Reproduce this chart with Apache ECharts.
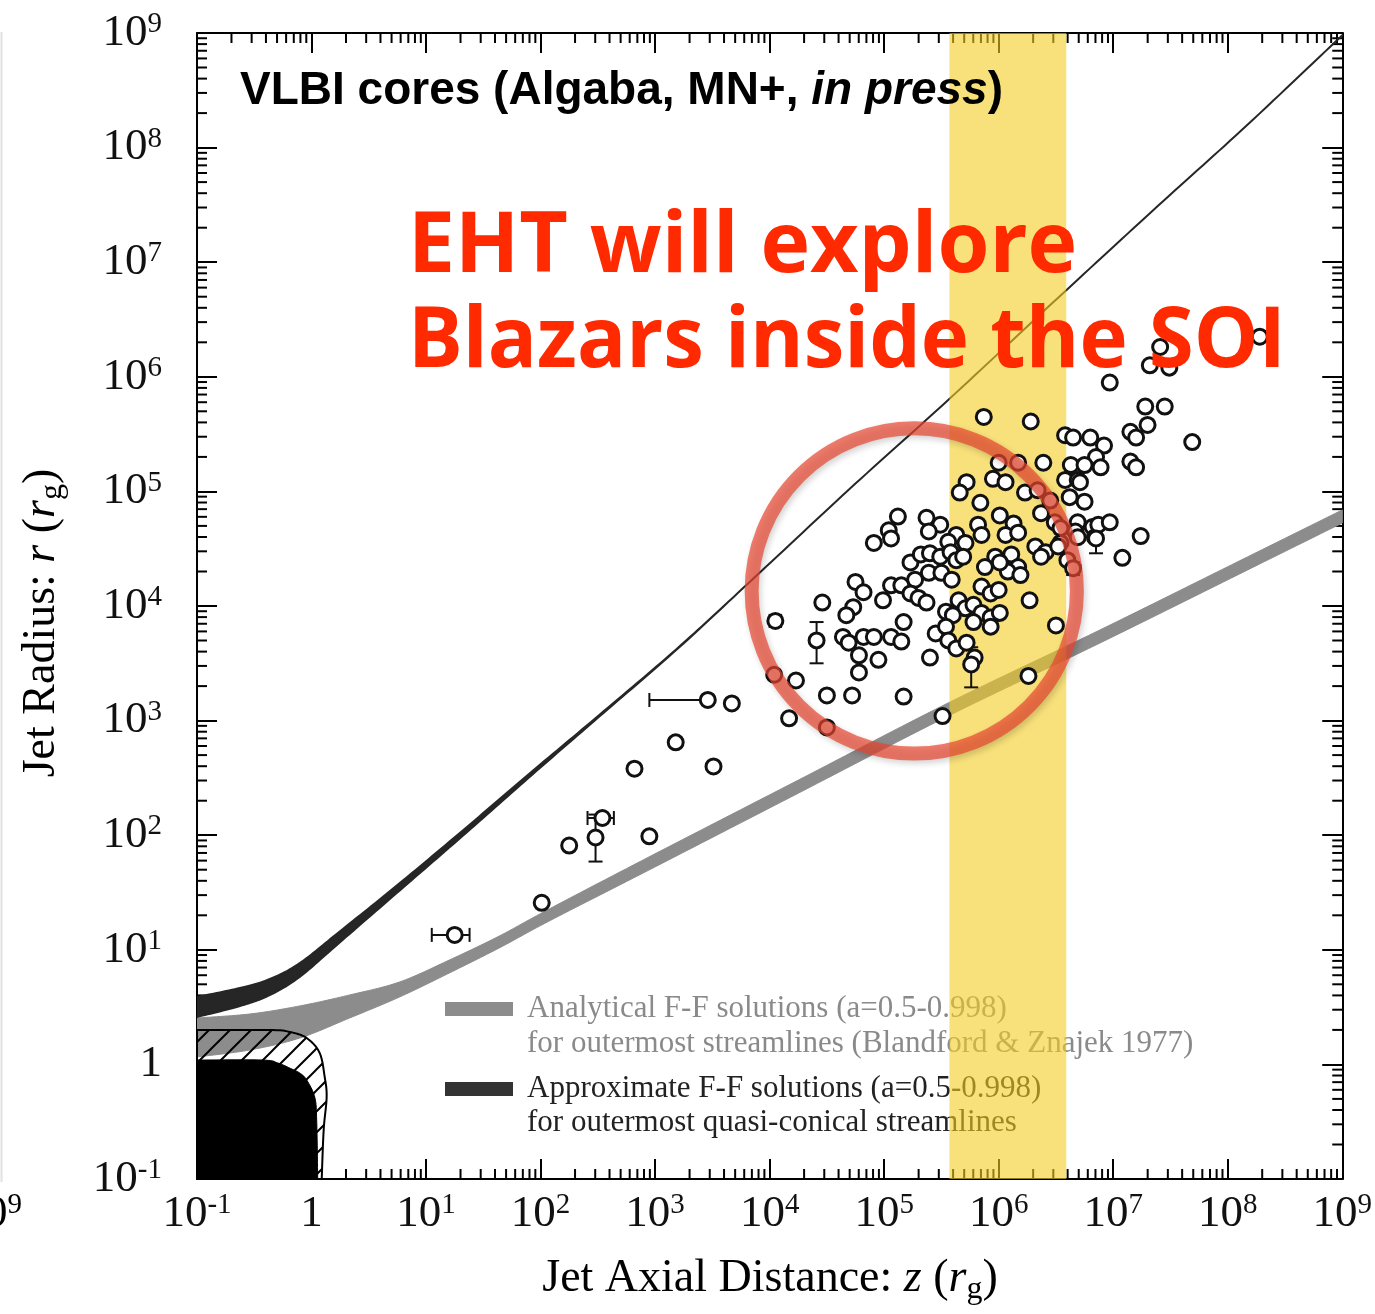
<!DOCTYPE html>
<html>
<head>
<meta charset="utf-8">
<title>Jet radius vs axial distance</title>
<script src="https://cdn.jsdelivr.net/npm/echarts@6/dist/echarts.min.js"></script>
<style>
  html, body { margin: 0; padding: 0; background: #fff; }
  #chart { width: 1375px; height: 1314px; }
</style>
</head>
<body>
<div id="chart"></div>
<script>
// ---------------------------------------------------------------------------
// Data (all positions given as decimal exponents: log10 of the value in r_g)
// ---------------------------------------------------------------------------

// VLBI core measurements: [log10 z, log10 r]
const vlbiCores = [
  [1.25, 1.13], [2.01, 1.41], [2.25, 1.91], [2.48, 1.98], [2.54, 2.15],
  [2.82, 2.58], [2.95, 1.99], [3.18, 2.81], [3.51, 2.60], [3.46, 3.18],
  [3.67, 3.15], [4.04, 3.40], [4.05, 3.87], [4.23, 3.35], [4.17, 3.02],
  [4.50, 2.94], [4.50, 3.22], [4.41, 3.70], [4.46, 4.03], [4.72, 3.22],
  [5.17, 3.21], [5.51, 3.04], [6.26, 3.39], [6.50, 3.83], [6.27, 4.05],
  [5.87, 5.65], [6.28, 5.61], [6.58, 5.49], [6.65, 5.47], [6.80, 5.47],
  [6.00, 5.25], [6.17, 5.25], [6.39, 5.25], [6.63, 5.23], [5.72, 5.08],
  [5.66, 4.99], [5.95, 5.11], [6.06, 5.08], [6.23, 4.99], [6.34, 5.01],
  [6.45, 4.92], [6.58, 5.10], [6.69, 5.10], [6.62, 4.95], [6.75, 4.91],
  [5.84, 4.90], [6.01, 4.79], [6.13, 4.72], [6.06, 4.62], [6.17, 4.64],
  [6.37, 4.81], [6.49, 4.73], [6.54, 4.68], [6.69, 4.73], [6.67, 4.65],
  [6.82, 4.69], [6.84, 4.60], [5.12, 4.78], [5.04, 4.66], [5.06, 4.59],
  [4.91, 4.55], [5.37, 4.77], [5.49, 4.71], [5.39, 4.65], [5.63, 4.62],
  [5.71, 4.55], [5.56, 4.56], [5.82, 4.71], [5.85, 4.62], [5.97, 4.43],
  [6.11, 4.45], [6.17, 4.34], [6.08, 4.30], [6.19, 4.27], [6.32, 4.52],
  [6.41, 4.47], [6.37, 4.43], [6.54, 4.55], [6.60, 4.40], [6.65, 4.33],
  [5.23, 4.38], [5.32, 4.45], [5.40, 4.46], [5.49, 4.43], [5.58, 4.47],
  [5.63, 4.40], [5.69, 4.43], [5.39, 4.29], [5.50, 4.29], [5.59, 4.23],
  [5.27, 4.23], [5.88, 4.34], [6.01, 4.38], [4.75, 4.21], [4.82, 4.12],
  [4.73, 3.99], [4.67, 3.92], [4.99, 4.05], [5.06, 4.18], [5.15, 4.18],
  [5.23, 4.11], [5.30, 4.07], [5.37, 4.03], [5.65, 4.05], [5.71, 3.98],
  [5.78, 4.01], [5.85, 4.17], [5.93, 4.11], [6.00, 4.14], [5.54, 3.95],
  [5.60, 3.92], [5.85, 3.94], [5.93, 3.90], [6.01, 3.94], [5.78, 3.86],
  [4.64, 3.73], [4.69, 3.68], [4.78, 3.57], [4.82, 3.73], [4.91, 3.73],
  [5.06, 3.73], [5.15, 3.69], [5.17, 3.86], [4.78, 3.42], [4.95, 3.53],
  [5.40, 3.55], [5.45, 3.76], [5.54, 3.82], [5.56, 3.70], [5.63, 3.63],
  [5.72, 3.68], [5.79, 3.55], [5.76, 3.49], [5.93, 3.82],
  [7.41, 6.26], [7.32, 6.10], [7.49, 6.08], [8.28, 6.35], [6.97, 5.95],
  [7.28, 5.74], [7.45, 5.74], [7.30, 5.58], [7.15, 5.52], [7.20, 5.47],
  [7.69, 5.43], [6.92, 5.40], [6.85, 5.30], [7.15, 5.26], [7.20, 5.21],
  [6.75, 5.23], [6.89, 5.21], [6.71, 5.08], [6.87, 4.71], [6.97, 4.73],
  [6.85, 4.59], [6.69, 4.60], [6.52, 4.52], [7.24, 4.61], [7.08, 4.42]
];

// Radius uncertainties: [log10 z, log10 r low, log10 r high]
const radiusErrors = [
  [2.48, 1.77, 2.18], [3.18, 2.77, 2.85], [4.41, 3.50, 3.86],
  [5.76, 3.29, 3.64], [6.85, 4.46, 4.66], [6.65, 4.27, 4.38]
];
// Distance uncertainties: [log10 z low, log10 z high, log10 r]
const distanceErrors = [
  [1.05, 1.38, 1.13], [2.41, 2.64, 2.15], [2.95, 3.46, 3.18], [4.00, 4.10, 3.87]
];

// Analytical force-free solutions (parabolic): [log10 z, log10 r upper, log10 r lower]
const analyticalBand = [
  [-1.000, 0.405, 0.065], [-0.538, 0.440, 0.126], [-0.103, 0.510, 0.230],
  [0.333, 0.606, 0.405], [0.768, 0.719, 0.588], [1.204, 0.911, 0.798],
  [1.639, 1.120, 1.016], [2.075, 1.356, 1.251], [2.946, 1.810, 1.696],
  [4.253, 2.482, 2.368], [5.559, 3.154, 3.040], [6.866, 3.782, 3.668],
  [8.172, 4.428, 4.314], [9.000, 4.838, 4.724]
];

// Approximate force-free solutions (quasi-conical): [log10 z, log10 r upper, log10 r lower]
const approximateBand = [
  [-1.000, 0.588, 0.414], [-0.625, 0.667, 0.509], [-0.364, 0.745, 0.605],
  [-0.103, 0.884, 0.764], [0.246, 1.160, 1.064], [0.768, 1.580, 1.516],
  [1.352, 2.068, 2.022], [1.927, 2.558, 2.528], [2.510, 3.047, 3.033],
  [3.181, 3.619, 3.613], [3.817, 4.201, 4.201], [4.688, 5.012, 5.012],
  [5.559, 5.798, 5.798], [6.517, 6.688, 6.688], [7.389, 7.490, 7.490],
  [8.170, 8.197, 8.197], [9.000, 8.980, 8.980]
];

// Black-hole horizon region outline: [log10 z, log10 r]
const horizonRegion = [
  [-1.000, -1.000], [-1.000, 0.038], [-0.425, 0.038], [-0.294, 0.012],
  [-0.190, -0.032], [-0.103, -0.075], [-0.042, -0.136], [0.028, -0.285],
  [0.045, -0.485], [0.054, -1.000]
];
// Ergosphere (hatched) outline: [log10 z, log10 r]
const ergoRegion = [
  [-1.000, -1.000], [-1.000, 0.300], [-0.364, 0.300], [-0.190, 0.283],
  [-0.042, 0.230], [0.071, 0.100], [0.115, -0.110], [0.132, -0.285],
  [0.106, -0.573], [0.089, -1.000]
];

// Sphere-of-influence distance range (log10 z)
const soiRange = [5.57, 6.59];
// Highlighted region: centre [log10 z, log10 r] and radius in decades of z
const highlightCentre = [5.263, 4.131];
const highlightRadius = 1.42;

// Axis extent in decades
const decadeMin = -1, decadeMax = 9;

// ---------------------------------------------------------------------------
const pow10 = (e) => Math.pow(10, e);
const X_MIN = pow10(decadeMin), X_MAX = pow10(decadeMax);
const Y_MIN = pow10(decadeMin), Y_MAX = pow10(decadeMax);

const serif = '"Liberation Serif", "Times New Roman", serif';
const sans = '"Liberation Sans", Arial, Helvetica, sans-serif';

function decadeLabel(v) {
  const n = Math.round(Math.log10(v));
  return n === 0 ? '{b|1}' : '{b|10}{s|' + n + '}';
}
const tickRich = {
  b: { fontFamily: serif, fontSize: 45, lineHeight: 46, color: '#111' },
  s: { fontFamily: serif, fontSize: 29, lineHeight: 25, verticalAlign: 'top', color: '#111' }
};
const axisTitleRich = {
  n: { fontFamily: serif, fontSize: 46, lineHeight: 54, color: '#111' },
  i: { fontFamily: serif, fontSize: 46, lineHeight: 54, fontStyle: 'italic', color: '#111' },
  g: { fontFamily: serif, fontSize: 32, lineHeight: 24, verticalAlign: 'bottom', color: '#111' }
};

// Minor tick positions 2..9 x 10^n
const minorTickValues = [];
for (let n = decadeMin; n < decadeMax; n++) {
  for (let k = 2; k <= 9; k++) minorTickValues.push(k * pow10(n));
}

// Diagonal hatch pattern tile
const hatchTile = document.createElement('canvas');
hatchTile.width = 21; hatchTile.height = 21;
(function () {
  const c = hatchTile.getContext('2d');
  c.strokeStyle = '#000';
  c.lineWidth = 2;
  c.beginPath();
  c.moveTo(-2, 23); c.lineTo(23, -2);
  c.moveTo(-2, 2); c.lineTo(2, -2);
  c.moveTo(19, 23); c.lineTo(23, 19);
  c.stroke();
})();

// Catmull-Rom smoothing of a pixel polyline (drawing only)
function smoothPath(pts, steps) {
  const out = [];
  const n = pts.length;
  if (n < 3) return pts.slice();
  for (let i = 0; i < n - 1; i++) {
    const p0 = pts[Math.max(i - 1, 0)], p1 = pts[i], p2 = pts[i + 1], p3 = pts[Math.min(i + 2, n - 1)];
    for (let s = 0; s < steps; s++) {
      const t = s / steps, t2 = t * t, t3 = t2 * t;
      const f = (k) => 0.5 * (2 * p1[k] + (-p0[k] + p2[k]) * t +
        (2 * p0[k] - 5 * p1[k] + 4 * p2[k] - p3[k]) * t2 +
        (-p0[k] + 3 * p1[k] - 3 * p2[k] + p3[k]) * t3);
      out.push([f(0), f(1)]);
    }
  }
  out.push(pts[n - 1]);
  return out;
}

function logAxis(position, showLabels) {
  return {
    type: 'log', logBase: 10, min: X_MIN, max: X_MAX, interval: 1,
    position: position,
    axisLine: { show: true, lineStyle: { color: '#000', width: 2 } },
    axisTick: { show: true, inside: true, length: 20, lineStyle: { color: '#000', width: 2 } },
    minorTick: { show: false },
    splitLine: { show: false },
    axisLabel: showLabels ? {
      show: true, formatter: decadeLabel, rich: tickRich,
      margin: (position === 'bottom') ? 12 : 35
    } : { show: false }
  };
}

// Band polygon: smoothed upper edge forward, smoothed lower edge back
function bandRenderer(style) {
  return function (params, api) {
    if (params.dataIndex !== 0) return null;
    const n = params.dataInsideLength;
    const up = [], low = [];
    for (let i = 0; i < n; i++) {
      up.push(api.coord([api.value(0, i), api.value(1, i)]));
      low.push(api.coord([api.value(0, i), api.value(2, i)]));
    }
    const pts = smoothPath(up, 16).concat(smoothPath(low, 16).reverse());
    return { type: 'polygon', shape: { points: pts }, style: style };
  };
}
// Region polygon: first vertex is the plot corner, the rest is a smooth outline
function outlineRenderer(style) {
  return function (params, api) {
    if (params.dataIndex !== 0) return null;
    const n = params.dataInsideLength;
    const pts = [];
    for (let i = 0; i < n; i++) pts.push(api.coord([api.value(0, i), api.value(1, i)]));
    const shape = [pts[0]].concat(smoothPath(pts.slice(1), 12));
    return { type: 'polygon', shape: { points: shape }, style: style };
  };
}
const toBand = (rows) => rows.map((d) => [pow10(d[0]), pow10(d[1]), pow10(d[2])]);
const toPoints = (rows) => rows.map((d) => [pow10(d[0]), pow10(d[1])]);

const headlineStyle = {
  font: 'bold 84px "Open Sans", sans-serif', fill: '#ff2a00',
  verticalAlign: 'middle',
  shadowBlur: 8, shadowColor: 'rgba(0,0,0,0.4)', shadowOffsetX: 3, shadowOffsetY: 4
};

const option = {
  animation: false,
  backgroundColor: '#fff',
  grid: { left: 197, top: 33, width: 1148, height: 1146, containLabel: false },
  xAxis: [logAxis('bottom', true), logAxis('top', false)],
  yAxis: [logAxis('left', true), logAxis('right', false)],
  series: [
    // minor ticks on all four sides
    {
      type: 'custom', z: 1, silent: true,
      data: minorTickValues.map((v) => [v, v]),
      renderItem: function (params, api) {
        const v = api.value(0);
        const b = api.coord([v, Y_MIN]), t = api.coord([v, Y_MAX]);
        const l = api.coord([X_MIN, v]), r = api.coord([X_MAX, v]);
        const L = 10, st = { stroke: '#000', lineWidth: 2 };
        return {
          type: 'group', children: [
            { type: 'line', shape: { x1: b[0], y1: b[1], x2: b[0], y2: b[1] - L }, style: st },
            { type: 'line', shape: { x1: t[0], y1: t[1], x2: t[0], y2: t[1] + L }, style: st },
            { type: 'line', shape: { x1: l[0], y1: l[1], x2: l[0] + L, y2: l[1] }, style: st },
            { type: 'line', shape: { x1: r[0], y1: r[1], x2: r[0] - L, y2: r[1] }, style: st }
          ]
        };
      }
    },
    // analytical force-free band (grey)
    {
      type: 'custom', name: 'Analytical F-F solutions', z: 2, silent: true, clip: true,
      data: toBand(analyticalBand),
      renderItem: bandRenderer({ fill: '#8c8c8c', stroke: '#8c8c8c', lineWidth: 1 })
    },
    // approximate force-free band (dark)
    {
      type: 'custom', name: 'Approximate F-F solutions', z: 2, silent: true, clip: true,
      data: toBand(approximateBand),
      renderItem: bandRenderer({ fill: '#262626', stroke: '#262626', lineWidth: 2, lineJoin: 'round' })
    },
    // ergosphere, hatched
    {
      type: 'custom', z: 2.2, silent: true, clip: true,
      data: toPoints(ergoRegion),
      renderItem: outlineRenderer({ fill: { image: hatchTile, repeat: 'repeat' }, stroke: '#000', lineWidth: 2 })
    },
    // horizon, solid black
    {
      type: 'custom', z: 2.3, silent: true, clip: true,
      data: toPoints(horizonRegion),
      renderItem: outlineRenderer({ fill: '#000', stroke: '#000', lineWidth: 1 })
    },
    // SOI distance range
    {
      type: 'custom', z: 3, silent: true,
      data: [[pow10(soiRange[0]), pow10(soiRange[1])]],
      renderItem: function (params, api) {
        const a = api.coord([api.value(0), Y_MAX]);
        const b = api.coord([api.value(1), Y_MIN]);
        return {
          type: 'rect',
          shape: { x: a[0], y: a[1], width: b[0] - a[0], height: b[1] - a[1] },
          style: { fill: 'rgba(243,205,33,0.6)' }
        };
      }
    },
    // radius error bars
    {
      type: 'custom', z: 4, silent: true,
      data: radiusErrors.map((d) => [pow10(d[0]), pow10(d[1]), pow10(d[2])]),
      renderItem: function (params, api) {
        const lo = api.coord([api.value(0), api.value(1)]);
        const hi = api.coord([api.value(0), api.value(2)]);
        const w = 7, st = { stroke: '#111', lineWidth: 2 };
        return {
          type: 'group', children: [
            { type: 'line', shape: { x1: lo[0], y1: lo[1], x2: hi[0], y2: hi[1] }, style: st },
            { type: 'line', shape: { x1: lo[0] - w, y1: lo[1], x2: lo[0] + w, y2: lo[1] }, style: st },
            { type: 'line', shape: { x1: hi[0] - w, y1: hi[1], x2: hi[0] + w, y2: hi[1] }, style: st }
          ]
        };
      }
    },
    // distance error bars
    {
      type: 'custom', z: 4, silent: true,
      data: distanceErrors.map((d) => [pow10(d[0]), pow10(d[2]), pow10(d[1])]),
      renderItem: function (params, api) {
        const lo = api.coord([api.value(0), api.value(1)]);
        const hi = api.coord([api.value(2), api.value(1)]);
        const h = 7, st = { stroke: '#111', lineWidth: 2 };
        return {
          type: 'group', children: [
            { type: 'line', shape: { x1: lo[0], y1: lo[1], x2: hi[0], y2: hi[1] }, style: st },
            { type: 'line', shape: { x1: lo[0], y1: lo[1] - h, x2: lo[0], y2: lo[1] + h }, style: st },
            { type: 'line', shape: { x1: hi[0], y1: hi[1] - h, x2: hi[0], y2: hi[1] + h }, style: st }
          ]
        };
      }
    },
    // VLBI cores
    {
      type: 'scatter', name: 'VLBI cores', z: 5, silent: true,
      symbol: 'circle', symbolSize: 15,
      itemStyle: { color: '#fff', borderColor: '#111', borderWidth: 3, opacity: 1 },
      data: toPoints(vlbiCores)
    },
    // highlighted region
    {
      type: 'custom', z: 6, silent: true,
      data: [[pow10(highlightCentre[0]), pow10(highlightCentre[1]), pow10(highlightCentre[0] + highlightRadius)]],
      renderItem: function (params, api) {
        const c = api.coord([api.value(0), api.value(1)]);
        const e = api.coord([api.value(2), api.value(1)]);
        return {
          type: 'circle',
          shape: { cx: c[0], cy: c[1], r: e[0] - c[0] },
          style: {
            fill: 'none', stroke: 'rgba(232,70,48,0.7)', lineWidth: 14,
            shadowBlur: 6, shadowColor: 'rgba(0,0,0,0.25)', shadowOffsetX: 2, shadowOffsetY: 3
          }
        };
      }
    }
  ],
  graphic: [
    // faint page edge
    { type: 'line', z: 0, silent: true, shape: { x1: 1.5, y1: 32, x2: 1.5, y2: 1182 }, style: { stroke: '#e2e2e2', lineWidth: 2 } },
    // neighbouring tick label cut by the page edge
    {
      type: 'text', z: 0, silent: true, x: 22, y: 1214,
      style: { text: '{b|10}{s|9}', rich: tickRich, align: 'right', verticalAlign: 'middle' }
    },
    // legend
    { type: 'rect', z: 1, silent: true, shape: { x: 445, y: 1002, width: 68, height: 14 }, style: { fill: '#8c8c8c' } },
    {
      type: 'text', z: 1, silent: true, x: 527, y: 1009,
      style: { text: 'Analytical F-F solutions (a=0.5-0.998)', font: '31px ' + serif, fill: '#8a8a8a', verticalAlign: 'middle' }
    },
    {
      type: 'text', z: 1, silent: true, x: 527, y: 1044,
      style: { text: 'for outermost streamlines (Blandford & Znajek 1977)', font: '31px ' + serif, fill: '#8a8a8a', verticalAlign: 'middle' }
    },
    { type: 'rect', z: 1, silent: true, shape: { x: 445, y: 1082, width: 68, height: 14 }, style: { fill: '#333' } },
    {
      type: 'text', z: 1, silent: true, x: 527, y: 1089,
      style: { text: 'Approximate F-F solutions (a=0.5-0.998)', font: '31px ' + serif, fill: '#222', verticalAlign: 'middle' }
    },
    {
      type: 'text', z: 1, silent: true, x: 527, y: 1123,
      style: { text: 'for outermost quasi-conical streamlines', font: '31px ' + serif, fill: '#222', verticalAlign: 'middle' }
    },
    // panel title
    {
      type: 'text', z: 10, silent: true, x: 240, y: 91,
      style: {
        text: '{n|VLBI cores (Algaba, MN+, }{i|in press}{n|)}',
        verticalAlign: 'middle',
        rich: {
          n: { fontFamily: sans, fontWeight: 'bold', fontSize: 46, color: '#000' },
          i: { fontFamily: sans, fontWeight: 'bold', fontStyle: 'italic', fontSize: 46, color: '#000' }
        }
      }
    },
    // headline
    {
      type: 'text', z: 10, silent: true, x: 408, y: 248,
      style: Object.assign({ text: 'EHT will explore' }, headlineStyle)
    },
    {
      type: 'text', z: 10, silent: true, x: 408, y: 343, scaleX: 0.972,
      style: Object.assign({ text: 'Blazars inside the SOI' }, headlineStyle)
    },
    // axis titles
    {
      type: 'text', z: 10, silent: true, x: 770, y: 1279,
      style: {
        text: '{n|Jet Axial Distance: }{i|z}{n| (}{i|r}{g|g}{n|)}',
        rich: axisTitleRich, align: 'center', verticalAlign: 'middle'
      }
    },
    {
      type: 'text', z: 10, silent: true, x: 42, y: 623, rotation: Math.PI / 2,
      style: {
        text: '{n|Jet Radius: }{i|r}{n| (}{i|r}{g|g}{n|)}',
        rich: axisTitleRich, align: 'center', verticalAlign: 'middle'
      }
    }
  ]
};

const chart = echarts.init(document.getElementById('chart'));
chart.setOption(option);
</script>
</body>
</html>
